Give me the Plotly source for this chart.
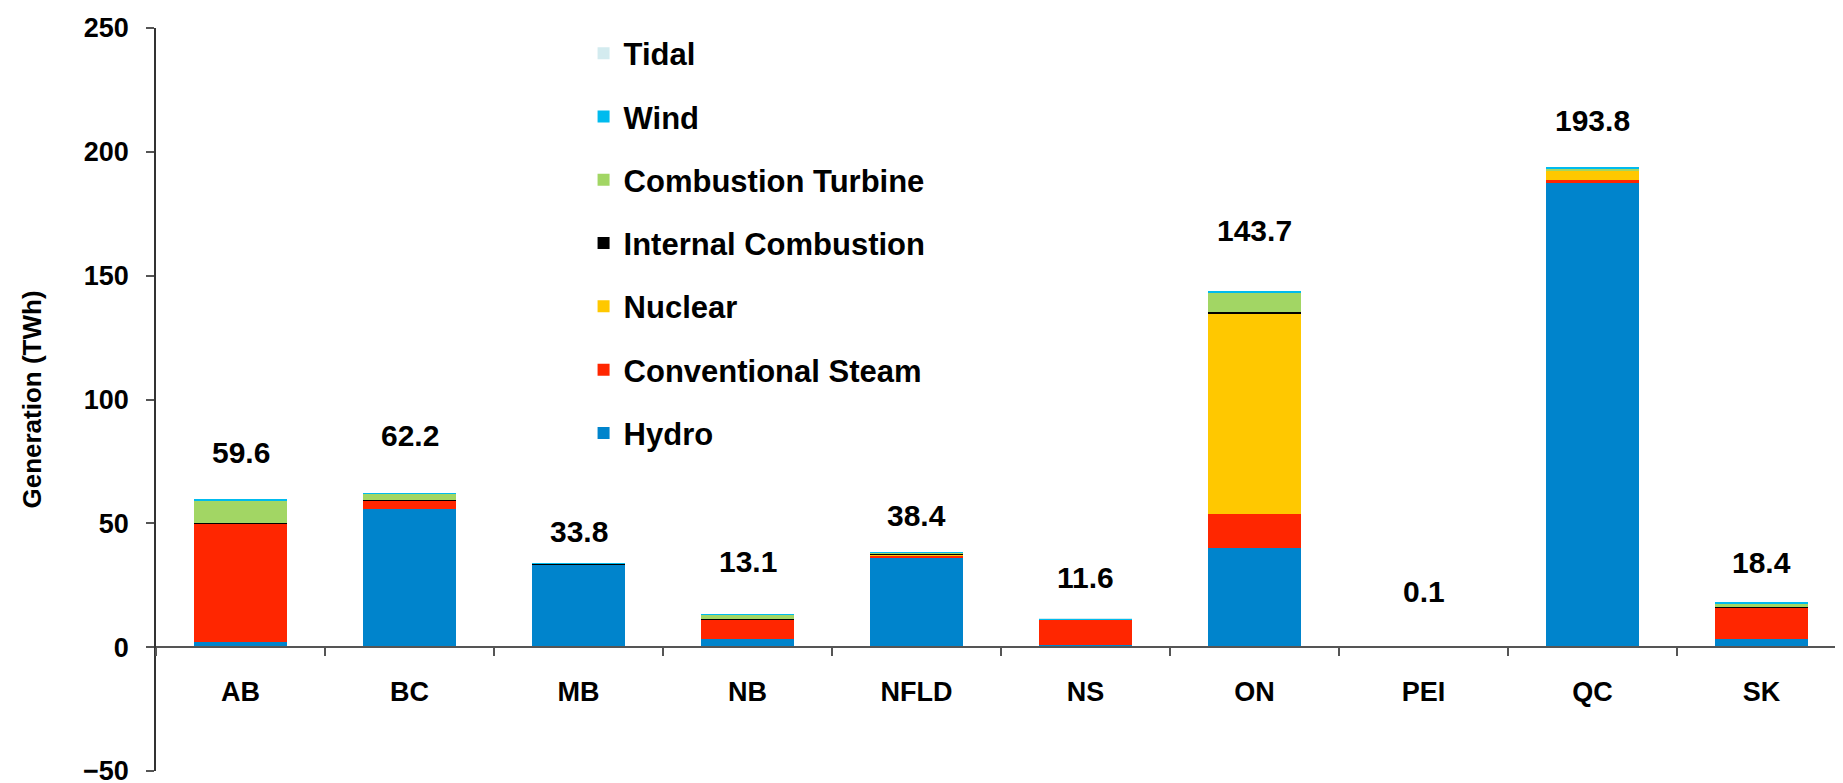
import plotly.graph_objects as go

# ---- data ----
provinces = ["AB", "BC", "MB", "NB", "NFLD", "NS", "ON", "PEI", "QC", "SK"]
hydro = [1.9, 55.7, 33.4, 3.2, 36.0, 0.9, 39.9, 0.0, 187.3, 3.1]
conventional_steam = [48.0, 3.6, 0.1, 7.8, 1.2, 10.2, 13.8, 0.0, 1.2, 13.0]
nuclear = [0.0, 0.0, 0.0, 0.0, 0.3, 0.0, 81.2, 0.0, 3.8, 0.0]
internal_combustion = [0.3, 0.3, 0.1, 0.4, 0.4, 0.1, 0.4, 0.0, 0.2, 0.3]
combustion_turbine = [9.0, 2.5, 0.1, 1.6, 0.4, 0.1, 7.7, 0.0, 0.4, 1.4]
wind = [0.4, 0.1, 0.1, 0.1, 0.1, 0.3, 0.7, 0.1, 0.9, 0.6]
tidal = [0.0, 0.0, 0.0, 0.0, 0.0, 0.03, 0.0, 0.0, 0.0, 0.0]

series = [
    ("Hydro", hydro, "#0084CC"),
    ("Conventional Steam", conventional_steam, "#FF2600"),
    ("Nuclear", nuclear, "#FFC800"),
    ("Internal Combustion", internal_combustion, "#000000"),
    ("Combustion Turbine", combustion_turbine, "#A2D664"),
    ("Wind", wind, "#00BBEE"),
    ("Tidal", tidal, "#D3EBEF"),
]

totals = [round(sum(v), 1) for v in zip(*[s[1] for s in series])]

# label placement (vertical offset above bar top, in axis units) - layout only
label_offsets = [19.1, 23.1, 12.9, 21.4, 14.9, 16.4, 24.4, 22.2, 18.7, 15.9]

FONT = "Liberation Sans, Arial, sans-serif"

fig = go.Figure()
n = len(series)
for i, (name, vals, color) in enumerate(series):
    fig.add_trace(go.Bar(
        x=provinces, y=vals, name=name, legendgroup=name,
        legendrank=n - i,
        marker=dict(color=color, line=dict(width=0)),
        hoverinfo="skip",
    ))

for p, t, off in zip(provinces, totals, label_offsets):
    fig.add_annotation(
        x=p, y=t + off, text=f"{t:.1f}", showarrow=False,
        xanchor="center", yanchor="middle",
        font=dict(family=FONT, size=30, color="black", weight="bold"),
    )

fig.update_layout(
    width=1843, height=783,
    margin=dict(l=148, r=5, t=18, b=13),
    paper_bgcolor="white", plot_bgcolor="white",
    barmode="stack", bargap=0.45,
    showlegend=True,
    legend=dict(
        x=0.253, y=1.002, xanchor="left", yanchor="top",
        traceorder="grouped", tracegroupgap=20,
        maxheight=1,
        font=dict(family=FONT, size=31, color="black", weight="bold"),
        bgcolor="rgba(0,0,0,0)", borderwidth=0,
        itemwidth=30,
    ),
    xaxis=dict(
        anchor="free", position=1/6,
        showline=True, linecolor="#555555", linewidth=1.5,
        ticks="outside", tickson="boundaries", ticklen=8, tickcolor="#555555", tickwidth=1.5,
        ticklabelstandoff=21,
        tickfont=dict(family=FONT, size=27, color="black", weight="bold"),
        showgrid=False, zeroline=False,
    ),
    yaxis=dict(
        range=[-50, 250], dtick=50, tick0=0,
        showline=True, linecolor="#333333", linewidth=1.5,
        ticks="outside", ticklen=8, tickcolor="#555555", tickwidth=1.5,
        ticklabelstandoff=12, ticklabeloverflow="allow",
        tickfont=dict(family=FONT, size=27, color="black", weight="bold"),
        showgrid=False, zeroline=False,
        title=dict(text="Generation (TWh)", standoff=34,
                   font=dict(family=FONT, size=26, color="black", weight="bold")),
    ),
)

fig.write_html("out.html")
